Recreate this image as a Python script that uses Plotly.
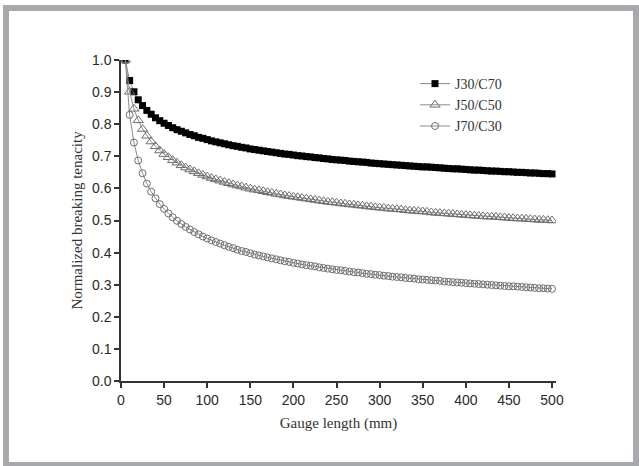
import plotly.graph_objects as go

gauge_length = [5 * i for i in range(1, 101)]

j30_c70 = [1.000, 0.936, 0.901, 0.876, 0.858, 0.843, 0.831, 0.820, 0.811, 0.803,
           0.796, 0.789, 0.783, 0.778, 0.773, 0.768, 0.764, 0.759, 0.756, 0.752,
           0.748, 0.745, 0.742, 0.739, 0.736, 0.733, 0.731, 0.728, 0.726, 0.723,
           0.721, 0.719, 0.717, 0.715, 0.713, 0.711, 0.709, 0.707, 0.706, 0.704,
           0.702, 0.701, 0.699, 0.698, 0.696, 0.695, 0.693, 0.692, 0.690, 0.689,
           0.688, 0.687, 0.685, 0.684, 0.683, 0.682, 0.681, 0.679, 0.678, 0.677,
           0.676, 0.675, 0.674, 0.673, 0.672, 0.671, 0.670, 0.669, 0.668, 0.667,
           0.667, 0.666, 0.665, 0.664, 0.663, 0.662, 0.661, 0.661, 0.660, 0.659,
           0.658, 0.657, 0.657, 0.656, 0.655, 0.654, 0.654, 0.653, 0.652, 0.652,
           0.651, 0.650, 0.650, 0.649, 0.648, 0.648, 0.647, 0.646, 0.646, 0.645]

j50_c50 = [1.000, 0.901, 0.848, 0.812, 0.785, 0.764, 0.746, 0.731, 0.718, 0.707,
           0.697, 0.688, 0.680, 0.672, 0.665, 0.659, 0.653, 0.647, 0.642, 0.637,
           0.632, 0.628, 0.624, 0.620, 0.616, 0.612, 0.609, 0.606, 0.602, 0.599,
           0.596, 0.594, 0.591, 0.588, 0.586, 0.583, 0.581, 0.578, 0.576, 0.574,
           0.572, 0.570, 0.568, 0.566, 0.564, 0.562, 0.560, 0.558, 0.557, 0.555,
           0.553, 0.552, 0.550, 0.549, 0.547, 0.546, 0.544, 0.543, 0.541, 0.540,
           0.539, 0.537, 0.536, 0.535, 0.534, 0.532, 0.531, 0.530, 0.529, 0.528,
           0.527, 0.525, 0.524, 0.523, 0.522, 0.521, 0.520, 0.519, 0.518, 0.517,
           0.516, 0.515, 0.514, 0.513, 0.512, 0.512, 0.511, 0.510, 0.509, 0.508,
           0.507, 0.506, 0.506, 0.505, 0.504, 0.503, 0.502, 0.502, 0.501, 0.500]

j70_c30 = [1.000, 0.829, 0.743, 0.687, 0.647, 0.615, 0.590, 0.569, 0.551, 0.536,
           0.522, 0.510, 0.499, 0.489, 0.480, 0.472, 0.464, 0.457, 0.450, 0.444,
           0.438, 0.433, 0.428, 0.423, 0.418, 0.414, 0.409, 0.405, 0.402, 0.398,
           0.394, 0.391, 0.388, 0.385, 0.382, 0.379, 0.376, 0.373, 0.371, 0.368,
           0.366, 0.363, 0.361, 0.359, 0.357, 0.354, 0.352, 0.350, 0.348, 0.346,
           0.345, 0.343, 0.341, 0.339, 0.338, 0.336, 0.334, 0.333, 0.331, 0.330,
           0.328, 0.327, 0.325, 0.324, 0.323, 0.321, 0.320, 0.319, 0.317, 0.316,
           0.315, 0.314, 0.313, 0.312, 0.310, 0.309, 0.308, 0.307, 0.306, 0.305,
           0.304, 0.303, 0.302, 0.301, 0.300, 0.299, 0.298, 0.297, 0.296, 0.295,
           0.295, 0.294, 0.293, 0.292, 0.291, 0.290, 0.289, 0.289, 0.288, 0.287]

y_ticks = [0.0, 0.1, 0.2, 0.3, 0.4, 0.5, 0.6, 0.7, 0.8, 0.9, 1.0]
x_ticks = [0, 50, 100, 150, 200, 250, 300, 350, 400, 450, 500]

W, H = 639, 466
L, R, T, B = 121, 83, 60, 85
pw, ph = W - L - R, H - T - B

def px(x):
    return (x - L) / pw

def py(y):
    return (H - B - y) / ph

fig = go.Figure()
fig.add_trace(go.Scatter(
    x=gauge_length, y=j30_c70, name="J30/C70", mode="lines+markers",
    line=dict(color="#8a8a8a", width=1),
    marker=dict(symbol="square", size=7, color="#000000", line=dict(width=0)),
))
fig.add_trace(go.Scatter(
    x=gauge_length, y=j50_c50, name="J50/C50", mode="lines+markers",
    line=dict(color="#8a8a8a", width=1),
    marker=dict(symbol="triangle-up-open", size=9, color="#6e6e6e", line=dict(width=1)),
))
fig.add_trace(go.Scatter(
    x=gauge_length, y=j70_c30, name="J70/C30", mode="lines+markers",
    line=dict(color="#8a8a8a", width=1),
    marker=dict(symbol="circle-open", size=7, color="#6e6e6e", line=dict(width=1)),
))

axis_common = dict(
    showline=True, linecolor="#333333", linewidth=1.5,
    ticks="outside", ticklen=5, tickwidth=1.5, tickcolor="#333333",
    showgrid=False, zeroline=False,
    tickfont=dict(family="Liberation Sans, Arial", size=14, color="#2a2a2a"),
    title_font=dict(family="Liberation Serif, Times New Roman", size=15, color="#333333"),
)

fig.update_xaxes(
    range=[0, 500 * pw / 431], tickvals=x_ticks,
    title_text="Gauge length (mm)", title_standoff=11, **axis_common,
)
fig.update_yaxes(
    range=[0, 1.0], tickvals=y_ticks, tickformat=".1f",
    title_text="Normalized breaking tenacity", title_standoff=6, **axis_common,
)

fig.add_shape(
    type="rect", xref="paper", yref="paper",
    x0=px(6), x1=px(636), y0=py(465), y1=py(8),
    line=dict(color="#a7a9ac", width=6), fillcolor="rgba(0,0,0,0)", layer="above",
)

fig.update_layout(
    width=W, height=H,
    margin=dict(l=L, r=R, t=T, b=B),
    paper_bgcolor="white", plot_bgcolor="white",
    legend=dict(
        x=px(415), y=py(68), xanchor="left", yanchor="top",
        font=dict(family="Liberation Serif, Times New Roman", size=14, color="#333333"),
        bgcolor="rgba(0,0,0,0)", borderwidth=0,
    ),
    showlegend=True,
)

fig.write_html(
    "out.html",
    config={"displayModeBar": False},
    post_script="document.body.style.margin='0';document.body.style.overflow='hidden';",
)
